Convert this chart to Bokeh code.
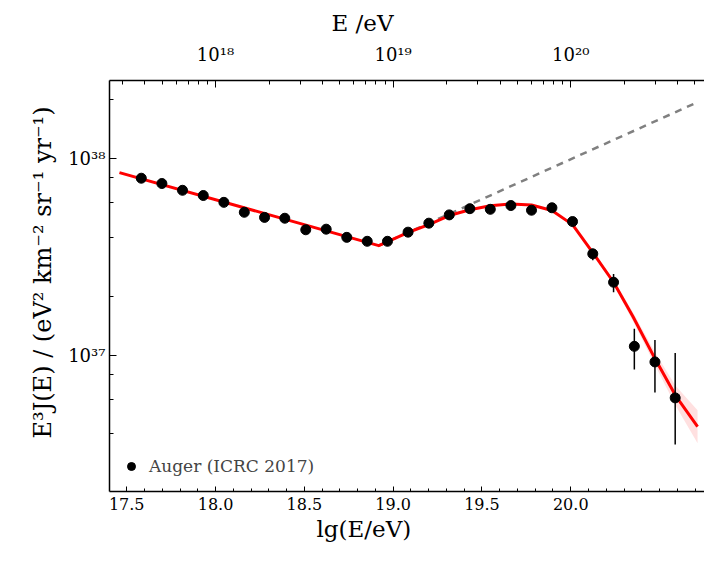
import math

from bokeh.plotting import figure
from bokeh.models import (LinearAxis, Range1d, FixedTicker, Legend, LegendItem, Title,
                          CustomJSTickFormatter, PrintfTickFormatter, LogTicker)
from bokeh.embed import file_html
from bokeh.resources import INLINE

# Auger spectrum (ICRC 2017): lg(E/eV) and E^3 J(E) in eV^2 km^-2 sr^-1 yr^-1
lg_energy = [17.582, 17.698, 17.814, 17.931, 18.047, 18.162, 18.276, 18.390, 18.508,
             18.623, 18.739, 18.854, 18.968, 19.084, 19.201, 19.316, 19.432, 19.547,
             19.663, 19.779, 19.894, 20.010, 20.124, 20.241, 20.358, 20.474, 20.588]
flux_e3 = [7.97e37, 7.49e37, 6.92e37, 6.51e37, 6.01e37, 5.35e37, 5.04e37, 4.99e37, 4.36e37,
           4.39e37, 3.99e37, 3.81e37, 3.81e37, 4.24e37, 4.71e37, 5.19e37, 5.58e37, 5.54e37,
           5.79e37, 5.48e37, 5.64e37, 4.80e37, 3.29e37, 2.36e37, 1.115e37, 9.29e36, 6.10e36]

# statistical error bars (only those sticking out of the markers)
err_index = [22, 23, 24, 25, 26]
err_low = [3.05e37, 2.10e37, 8.51e36, 6.49e36, 3.54e36]
err_high = [3.49e37, 2.60e37, 1.37e37, 1.20e37, 1.03e37]

# broken power law with suppression (fit)
fit_lg = [17.459, 18.919, 19.079, 19.201, 19.316, 19.432, 19.547, 19.663, 19.779,
          19.894, 20.010, 20.124, 20.241, 20.350, 20.474, 20.590, 20.714]
fit_flux = [8.51e37, 3.62e37, 4.21e37, 4.63e37, 5.15e37, 5.51e37, 5.77e37, 5.90e37, 5.83e37,
            5.46e37, 4.63e37, 3.34e37, 2.36e37, 1.58e37, 9.66e36, 6.27e36, 4.36e36]

# fit uncertainty band
band_lg = [19.894, 20.010, 20.124, 20.241, 20.350, 20.474, 20.590, 20.714]
band_low = [5.45e37, 4.59e37, 3.28e37, 2.29e37, 1.50e37, 8.97e36, 5.58e36, 3.59e36]
band_high = [5.47e37, 4.68e37, 3.40e37, 2.44e37, 1.66e37, 1.04e37, 7.03e36, 5.28e36]

# power law above the ankle without suppression
ext_lg = [18.919, 20.714]
ext_flux = [3.62e37, 1.94e38]

# axis ticks
bottom_ticks = [17.5, 18.0, 18.5, 19.0, 19.5, 20.0]
top_ticks = [18, 19, 20]
top_labels = ["10\u00b9\u2078", "10\u00b9\u2079", "10\u00b2\u2070"]

FONT = "DejaVu Serif"

p = figure(width=704, height=561, output_backend="svg", toolbar_location=None,
           x_range=Range1d(17.403, 20.753), y_range=Range1d(2.04e36, 2.50e38),
           y_axis_type="log",
           min_border_left=109, min_border_right=0, min_border_top=80, min_border_bottom=70)
p.outline_line_color = None
p.grid.visible = False
p.background_fill_color = "white"
p.border_fill_color = "white"

# band, extension, fit, data
p.varea(x=band_lg, y1=band_low, y2=band_high, fill_color="red", fill_alpha=0.12)
p.line(ext_lg, ext_flux, line_color="#808080", line_width=2.5, line_dash="7 6")
p.line(fit_lg, fit_flux, line_color="red", line_width=3, line_join="round")
p.segment(x0=[lg_energy[i] for i in err_index], y0=err_low,
          x1=[lg_energy[i] for i in err_index], y1=err_high,
          line_color="black", line_width=1.5)
pts = p.scatter(lg_energy, flux_e3, size=10, fill_color="black", line_color="black")


def style_axis(ax, major_in=7, minor_in=4):
    ax.major_tick_in = major_in
    ax.major_tick_out = 0
    ax.minor_tick_in = minor_in
    ax.minor_tick_out = 0
    ax.axis_line_width = 1.5
    ax.major_tick_line_width = 1
    ax.minor_tick_line_width = 1
    ax.major_label_text_font = FONT
    ax.major_label_text_font_size = "16px"
    ax.major_label_text_color = "black"


def axis_title(text, side, offset, standoff, size="23px"):
    t = Title(text=text, align="left", offset=offset, standoff=standoff,
              text_font=FONT, text_font_size=size, text_font_style="normal",
              text_color="black")
    p.add_layout(t, side)


# bottom axis: lg(E/eV)
xb = p.xaxis[0]
xb.ticker = FixedTicker(ticks=bottom_ticks,
                        minor_ticks=[round(17.4 + 0.1 * k, 1) for k in range(34)])
xb.formatter = PrintfTickFormatter(format="%.1f")
style_axis(xb, major_in=5, minor_in=3)
xb.major_label_standoff = 6

# left axis: E^3 J(E)
yl = p.yaxis[0]
yl.ticker = LogTicker()
yl.formatter = CustomJSTickFormatter(code="""
const sup = {'0':'\u2070','1':'\u00b9','2':'\u00b2','3':'\u00b3','4':'\u2074',
             '5':'\u2075','6':'\u2076','7':'\u2077','8':'\u2078','9':'\u2079','-':'\u207b'};
const e = Math.round(Math.log10(tick));
return '10' + String(e).split('').map(c => sup[c]).join('');
""")
style_axis(yl)
yl.major_label_text_font_size = "18px"
yl.major_label_standoff = 4

# top axis: E/eV
minor_top = [n + math.log10(k) for n in range(17, 21) for k in range(2, 10)]
xt = LinearAxis(ticker=FixedTicker(ticks=top_ticks, minor_ticks=minor_top),
                major_label_overrides={t: s for t, s in zip(top_ticks, top_labels)})
style_axis(xt)
xt.major_label_text_font_size = "18px"
xt.major_label_standoff = 16
p.add_layout(xt, "above")

# axis titles
axis_title("lg(E/eV)", "below", 207, 2)
axis_title("E /eV", "above", 222, 10)
axis_title("E\u00b3J(E) / (eV\u00b2 km\u207b\u00b2 sr\u207b\u00b9 yr\u207b\u00b9)", "left", 53, 18,
           size="24px")

legend = Legend(items=[LegendItem(label="Auger (ICRC 2017)", renderers=[pts])],
                location=(12, 15), margin=0, padding=10, glyph_width=20, glyph_height=20,
                label_standoff=8, border_line_color=None, background_fill_alpha=0,
                label_text_font=FONT, label_text_font_size="17px")
p.add_layout(legend)

open("out.html", "w").write(file_html(p, INLINE))
